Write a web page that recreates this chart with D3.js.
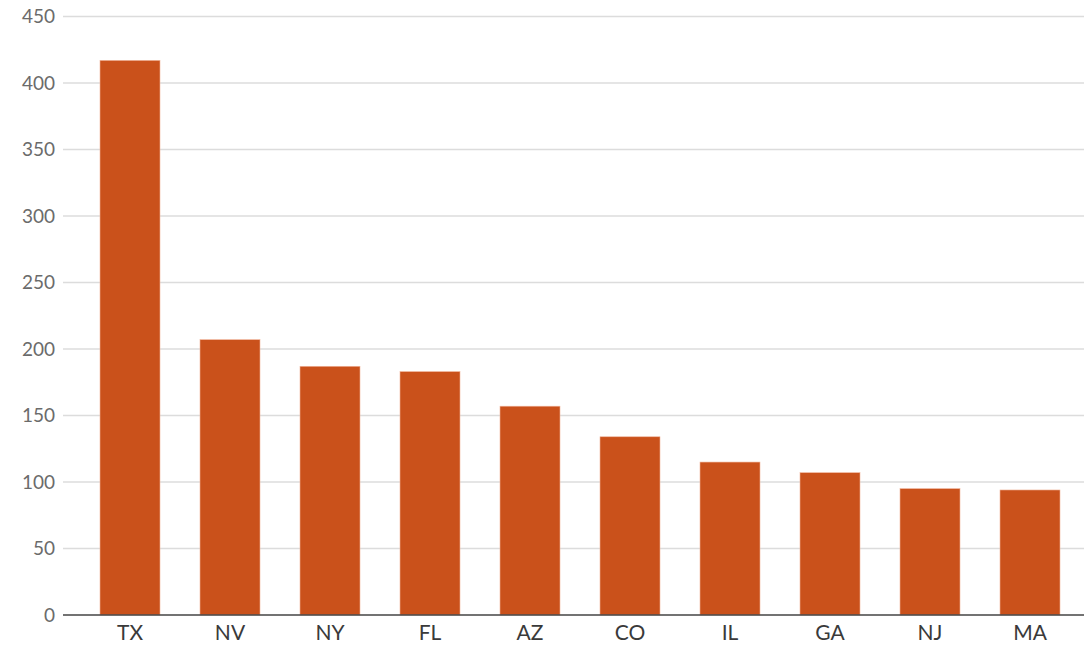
<!DOCTYPE html>
<html><head><meta charset="utf-8">
<script src="https://cdn.jsdelivr.net/npm/d3@7"></script>
<style>body{margin:0;background:#fff}svg{display:block}</style>
</head><body>
<script>
const categories = ["TX","NV","NY","FL","AZ","CO","IL","GA","NJ","MA"];
const values = [417,207,187,183,157,134,115,107,95,94];
const yTicks = [0,50,100,150,200,250,300,350,400,450];

const W = 1084, H = 645;
const svg = d3.select("body").append("svg").attr("width", W).attr("height", H);
const y = d3.scaleLinear().domain([0,450]).range([615,16.5]);
const x = d3.scaleBand().domain(categories).range([80,1080]).paddingInner(0.4).paddingOuter(0.2);

const grid = svg.append("g");
grid.selectAll("line").data(yTicks.filter(t=>t>0)).join("line")
  .attr("x1",63).attr("x2",1084)
  .attr("y1",d=>y(d)).attr("y2",d=>y(d))
  .attr("stroke","#dcdcdc").attr("stroke-width",1.3);

svg.append("g").selectAll("text").data(yTicks).join("text")
  .attr("x",55).attr("y",d=>y(d)).attr("dy","0.35em")
  .attr("text-anchor","end")
  .attr("font-family","Lato, 'Open Sans', sans-serif").attr("font-size",19)
  .attr("fill","#6b6b6b").text(d=>d);

svg.append("g").selectAll("rect").data(values).join("rect")
  .attr("x",(d,i)=>x(categories[i])).attr("width",x.bandwidth())
  .attr("y",d=>y(d)).attr("height",d=>y(0)-y(d))
  .attr("fill","#ca511b").attr("stroke","#f0b49a").attr("stroke-width",0.6);

svg.append("line").attr("x1",63).attr("x2",1084).attr("y1",y(0)).attr("y2",y(0))
  .attr("stroke","#444").attr("stroke-width",1.5);

svg.append("g").selectAll("text").data(categories).join("text")
  .attr("x",d=>x(d)+x.bandwidth()/2).attr("y",640)
  .attr("text-anchor","middle")
  .attr("font-family","Lato, 'Open Sans', sans-serif").attr("font-size",21)
  .attr("fill","#3a3a3a").text(d=>d);
</script>
</body></html>
